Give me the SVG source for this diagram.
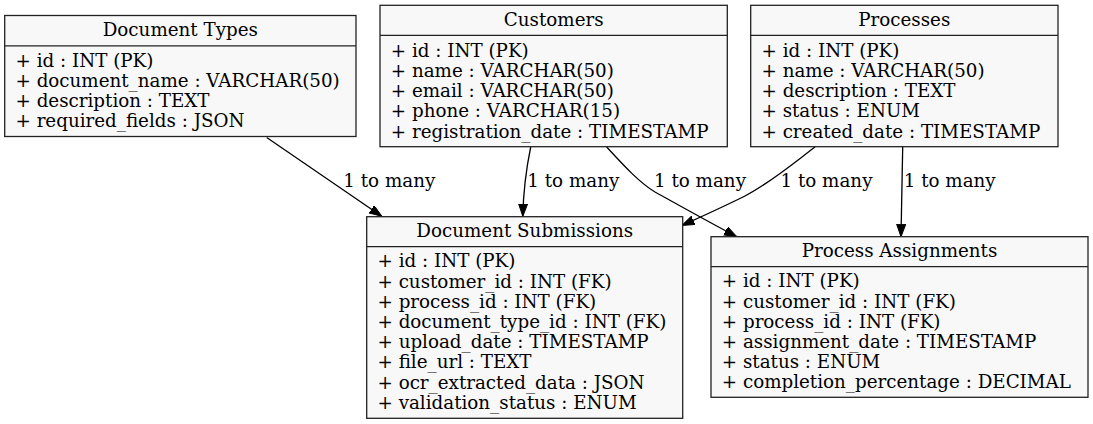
<svg xmlns="http://www.w3.org/2000/svg" width="1093" height="424" viewBox="0 0 1093 424">
<style>
  .box { fill: #f8f8f8; stroke: #222; stroke-width: 1.3; }
  .div { stroke: #222; stroke-width: 1.3; }
  text { font-family: "DejaVu Serif", serif; font-size: 18.3px; fill: #000; }
  .hdr { text-anchor: middle; }
  .lbl { text-anchor: middle; }
  .edge { fill: none; stroke: #000; stroke-width: 1.3; marker-end: url(#arr); }
</style>
<defs>
  <marker id="arr" markerUnits="userSpaceOnUse" markerWidth="14" markerHeight="10" refX="12.4" refY="4.5" orient="auto">
    <path d="M0,0 L12.4,4.5 L0,9 z" fill="#000" stroke="#000" stroke-width="1"/>
  </marker>
</defs>
<rect width="1093" height="424" fill="#fff"/>

<g id="connectors">
  <path class="edge" d="M266.7,137.5 L381.7,216.2"/>
  <path class="edge" d="M530.7,147 C527,165 523.5,185 522.8,216.2"/>
  <path class="edge" d="M606.7,147 C625,167 640,183 655,192 C675,203 705,220 736.7,236.7"/>
  <path class="edge" d="M815,147 C795,162 770,183 745,196 C725,206 705,215 682,225.5"/>
  <path class="edge" d="M902.7,147 C902.3,170 901.5,200 901,236.7"/>
  <text class="lbl" x="389.3" y="187.3">1 to many</text>
  <text class="lbl" x="573.3" y="187.3">1 to many</text>
  <text class="lbl" x="700" y="187.3">1 to many</text>
  <text class="lbl" x="826.5" y="187.3">1 to many</text>
  <text class="lbl" x="949.7" y="187.3">1 to many</text>
</g>

<g id="document_types">
  <rect class="box" x="4.7" y="15.5" width="351.3" height="121"/>
  <line class="div" x1="4.7" y1="45.8" x2="356" y2="45.8"/>
  <text class="hdr" x="180.3" y="36">Document Types</text>
  <text x="15.5" y="66.7">+ id : INT (PK)</text>
  <text x="15.5" y="86.9">+ document_name : VARCHAR(50)</text>
  <text x="15.5" y="107.1">+ description : TEXT</text>
  <text x="15.5" y="127.3">+ required_fields : JSON</text>
</g>

<g id="customers">
  <rect class="box" x="380" y="5.3" width="347.3" height="141.4"/>
  <line class="div" x1="380" y1="35.3" x2="727.3" y2="35.3"/>
  <text class="hdr" x="553.7" y="26">Customers</text>
  <text x="390.8" y="56.7">+ id : INT (PK)</text>
  <text x="390.8" y="76.9">+ name : VARCHAR(50)</text>
  <text x="390.8" y="97.1">+ email : VARCHAR(50)</text>
  <text x="390.8" y="117.3">+ phone : VARCHAR(15)</text>
  <text x="390.8" y="137.5">+ registration_date : TIMESTAMP</text>
</g>

<g id="processes">
  <rect class="box" x="750.7" y="5.3" width="307.3" height="141.4"/>
  <line class="div" x1="750.7" y1="35.3" x2="1058" y2="35.3"/>
  <text class="hdr" x="904.3" y="26">Processes</text>
  <text x="761.5" y="56.7">+ id : INT (PK)</text>
  <text x="761.5" y="76.9">+ name : VARCHAR(50)</text>
  <text x="761.5" y="97.1">+ description : TEXT</text>
  <text x="761.5" y="117.3">+ status : ENUM</text>
  <text x="761.5" y="137.5">+ created_date : TIMESTAMP</text>
</g>

<g id="document_submissions">
  <rect class="box" x="366.7" y="216.7" width="316" height="201.6"/>
  <line class="div" x1="366.7" y1="246.7" x2="682.7" y2="246.7"/>
  <text class="hdr" x="524.7" y="237">Document Submissions</text>
  <text x="377.5" y="267.3">+ id : INT (PK)</text>
  <text x="377.5" y="287.5">+ customer_id : INT (FK)</text>
  <text x="377.5" y="307.7">+ process_id : INT (FK)</text>
  <text x="377.5" y="327.9">+ document_type_id : INT (FK)</text>
  <text x="377.5" y="348.1">+ upload_date : TIMESTAMP</text>
  <text x="377.5" y="368.3">+ file_url : TEXT</text>
  <text x="377.5" y="388.5">+ ocr_extracted_data : JSON</text>
  <text x="377.5" y="408.7">+ validation_status : ENUM</text>
</g>

<g id="process_assignments">
  <rect class="box" x="711" y="236.7" width="377" height="160.6"/>
  <line class="div" x1="711" y1="266.7" x2="1088" y2="266.7"/>
  <text class="hdr" x="899.5" y="257">Process Assignments</text>
  <text x="721.8" y="287.3">+ id : INT (PK)</text>
  <text x="721.8" y="307.5">+ customer_id : INT (FK)</text>
  <text x="721.8" y="327.7">+ process_id : INT (FK)</text>
  <text x="721.8" y="347.9">+ assignment_date : TIMESTAMP</text>
  <text x="721.8" y="368.1">+ status : ENUM</text>
  <text x="721.8" y="388.3">+ completion_percentage : DECIMAL</text>
</g>
</svg>
